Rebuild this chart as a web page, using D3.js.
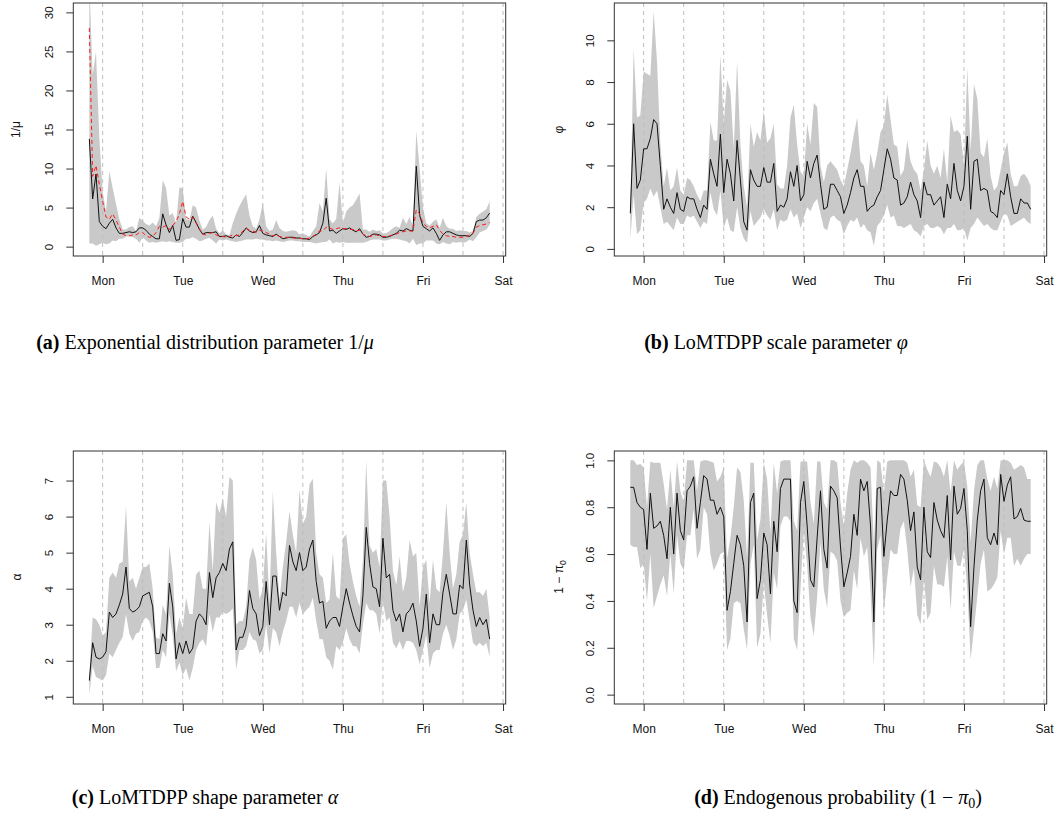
<!DOCTYPE html>
<html>
<head>
<meta charset="utf-8">
<script src="https://cdn.jsdelivr.net/npm/d3@7"></script>
<style>
  body { margin: 0; background: #fff; }
  svg { display: block; }
</style>
</head>
<body>
<svg id="chart" width="1058" height="833"></svg>
<script>
// hourly estimates, first point is Sunday 20:00 (hour -4 relative to Monday 0:00)
const startHour = -4;
const dayLabels = ['Mon', 'Tue', 'Wed', 'Thu', 'Fri', 'Sat'];
const dayTicks = [0, 24, 48, 72, 96, 120];
const halfDayLines = [0, 12, 24, 36, 48, 60, 72, 84, 96, 108, 120];

// (a) 1/mu
const muMid = [
  13.8, 6.1, 9.3, 3.2, 2.6, 2.3, 3.0, 3.5, 2.4, 1.7,
  1.7, 1.8, 1.9, 1.8, 1.9, 2.4, 2.4, 2.1, 1.6, 1.3,
  1.0, 1.0, 4.2, 2.8, 1.8, 2.7, 0.8, 0.9, 3.6, 2.5,
  2.5, 3.9, 3.1, 2.2, 1.6, 1.8, 1.8, 1.8, 1.9, 1.3,
  1.3, 1.4, 1.2, 1.1, 1.5, 1.3, 1.8, 2.4, 2.0, 1.8,
  1.9, 2.7, 1.7, 1.5, 1.4, 1.3, 1.6, 1.3, 1.0, 1.1,
  1.2, 1.2, 1.1, 1.1, 1.0, 1.0, 0.9, 1.3, 1.5, 1.8,
  3.0, 6.2, 2.0, 2.1, 1.7, 2.0, 2.3, 2.2, 2.4, 2.1,
  1.9, 2.3, 1.6, 1.2, 1.3, 1.6, 1.6, 1.5, 1.2, 1.2,
  1.3, 1.5, 1.7, 2.1, 2.0, 2.3, 2.1, 2.0, 10.3, 4.0,
  2.6, 2.3, 2.0, 2.4, 1.7, 0.8, 1.5, 1.9, 1.9, 1.7,
  1.5, 1.4, 1.4, 1.4, 1.3, 1.7, 3.2, 3.4, 3.4, 3.7, 4.3
];
const muHigh = [
  34, 22, 25, 14, 7.0, 4.5, 9.7, 7.5, 5.5, 3.5,
  2.2, 2.2, 2.5, 2.6, 2.0, 3.7, 3.3, 2.9, 2.7, 3.1,
  2.6, 3.7, 8.5, 7.5, 4.0, 4.3, 3.0, 7.6, 7.4, 3.5,
  3.4, 5.3, 5.0, 3.3, 2.2, 2.5, 3.4, 4.0, 2.3, 1.7,
  2.1, 1.6, 1.5, 3.0, 4.2, 5.2, 6.0, 6.7, 4.0, 2.6,
  2.3, 3.5, 5.6, 2.6, 2.0, 2.2, 3.4, 2.4, 2.0, 1.9,
  2.0, 2.1, 2.0, 1.6, 1.7, 1.5, 1.3, 2.0, 2.6, 5.6,
  4.5, 10.0, 3.5, 3.0, 3.5, 8.2, 3.0, 4.5, 5.0, 5.3,
  6.0, 6.8, 2.2, 2.2, 1.9, 2.2, 2.0, 2.1, 1.7, 1.7,
  2.0, 2.4, 2.6, 2.4, 3.7, 2.9, 3.8, 2.6, 14.8, 10.0,
  5.0, 3.0, 2.7, 3.2, 3.5, 2.4, 3.7, 2.6, 2.3, 2.3,
  2.0, 2.1, 2.0, 2.0, 1.8, 2.0, 3.8, 4.2, 4.5, 4.8, 5.8
];
const muLow = [
  0.4, 0.4, 0.1, 0.3, 0.5, 0.3, 0.4, 0.8, 0.7, 1.0,
  1.0, 1.3, 1.3, 1.2, 1.0, 0.5, 1.2, 0.8, 0.5, 0.6,
  0.5, 0.6, 0.7, 0.6, 0.7, 0.6, 0.5, 0.5, 0.6, 1.0,
  1.0, 1.2, 1.0, 0.7, 0.8, 1.0, 1.1, 0.8, 0.4, 0.9,
  0.8, 0.9, 0.8, 0.7, 0.6, 0.7, 0.8, 0.9, 0.9, 0.9,
  1.0, 0.9, 0.9, 0.8, 0.8, 0.7, 0.8, 0.7, 0.6, 0.7,
  0.8, 0.8, 0.7, 0.7, 0.6, 0.6, 0.6, 0.5, 0.4, 0.5,
  0.6, 0.6, 0.9, 0.4, 0.6, 0.5, 0.6, 0.5, 0.5, 0.5,
  0.5, 0.5, 0.5, 0.6, 0.8, 0.9, 0.9, 0.9, 0.8, 0.8,
  0.9, 1.0, 1.0, 0.9, 0.8, 0.7, 0.4, 1.0, 0.2, 0.4,
  0.4, 0.8, 0.8, 0.8, 0.4, 0.3, 0.6, 0.4, 0.3, 0.6,
  0.5, 0.6, 0.5, 0.6, 0.9, 0.7, 1.2, 1.8, 2.0, 2.2, 2.8
];
// red dashed reference estimate in (a)
const muRef = [
  28, 9.0, 10.4, 8.0, 5.8, 3.8, 3.5, 4.2, 3.4, 2.5,
  1.6, 1.4, 1.4, 1.5, 1.5, 1.8, 1.8, 1.4, 1.2, 1.3,
  1.8, 2.6, 2.5, 2.7, 2.2, 2.7, 3.2, 4.2, 5.8, 3.8,
  3.5, 3.8, 3.0, 2.3, 1.6, 1.5, 1.7, 1.8, 1.5, 1.3,
  1.3, 1.2, 1.3, 1.5, 1.4, 1.5, 2.0, 2.3, 2.1, 2.0,
  1.8, 2.1, 2.0, 1.8, 1.6, 1.4, 1.5, 1.3, 1.2, 1.2,
  1.2, 1.1, 1.1, 1.1, 1.0, 1.0, 1.1, 1.3, 1.6, 2.0,
  2.0, 2.5, 2.4, 2.2, 2.3, 2.4, 2.3, 2.3, 2.2, 2.2,
  2.0, 2.1, 1.6, 1.4, 1.3, 1.4, 1.5, 1.4, 1.3, 1.3,
  1.4, 1.5, 1.6, 1.8, 1.9, 2.0, 2.0, 2.0, 4.7, 4.2,
  3.0, 2.6, 2.4, 2.6, 2.8, 2.1, 1.6, 1.4, 1.3, 1.3,
  1.2, 1.2, 1.2, 1.3, 1.5, 1.7, 2.5, 2.7, 2.8, 2.9, 3.1
];

// (b) phi
const phiMid = [
  1.7, 6.0, 2.9, 3.3, 4.8, 4.8, 5.3, 6.2, 6.0, 4.0,
  1.9, 2.4, 2.0, 1.7, 2.7, 1.9, 1.8, 2.5, 2.4, 2.4,
  1.9, 1.5, 2.1, 1.9, 4.3, 3.6, 3.0, 5.5, 2.7, 4.3,
  3.6, 2.3, 5.2, 3.3, 1.3, 0.9, 3.8, 3.3, 3.0, 3.0,
  3.9, 3.2, 3.2, 4.1, 1.8, 2.1, 2.0, 2.4, 3.7, 3.0,
  4.0, 2.3, 2.6, 4.2, 3.4, 4.1, 4.5, 3.1, 1.9, 2.0,
  3.1, 3.1, 2.8, 2.5, 1.7, 2.1, 2.7, 3.4, 3.8, 3.0,
  3.0, 1.8, 2.0, 2.1, 2.5, 2.8, 3.8, 4.8, 4.3, 3.4,
  3.3, 2.1, 2.2, 2.5, 3.2, 2.6, 2.3, 1.5, 3.2, 2.6,
  2.6, 2.1, 2.3, 2.5, 1.5, 3.1, 2.4, 4.1, 2.8, 2.3,
  3.0, 5.4, 1.9, 4.2, 4.3, 2.8, 2.9, 2.8, 1.8, 1.7,
  1.5, 2.8, 2.6, 3.6, 2.5, 1.7, 1.7, 2.4, 2.2, 2.2, 1.9
];
const phiHigh = [
  1.9, 9.6, 6.3, 6.4, 8.5, 8.4, 8.3, 11.4, 9.0, 5.0,
  3.0, 3.9, 2.8, 3.0, 3.9, 2.8, 2.6, 3.4, 3.3, 3.0,
  2.6, 2.3, 2.8, 2.8, 6.1, 5.2, 5.2, 9.3, 6.0, 8.1,
  7.6, 4.8, 9.0, 5.0, 3.0, 2.0, 6.0, 4.9, 5.6, 5.2,
  6.6, 5.1, 5.3, 6.0, 3.1, 2.9, 2.9, 4.0, 6.3, 6.9,
  5.0, 3.7, 3.5, 6.0, 5.0, 7.0, 6.8, 4.0, 3.2, 4.0,
  4.2, 4.0, 3.8, 3.3, 3.0, 3.8, 4.6, 5.5, 6.3, 4.2,
  4.0, 3.0, 4.6, 3.8, 4.6, 5.6, 5.9, 7.4, 6.2, 5.0,
  4.9, 3.5, 3.8, 5.2, 4.2, 3.8, 3.6, 2.8, 3.8, 5.2,
  4.0, 3.6, 4.0, 3.4, 4.8, 3.2, 6.4, 5.6, 5.7, 5.5,
  4.0, 8.7, 4.7, 7.9, 7.2, 4.6, 4.4, 5.3, 3.5, 2.8,
  3.0, 3.8, 4.6, 5.1, 3.6, 3.0, 3.0, 3.5, 3.6, 3.4, 3.0
];
const phiLow = [
  0.45, 2.6, 0.7, 0.9, 2.2, 2.4, 2.9, 2.5, 2.8, 2.0,
  1.2, 1.3, 1.1, 0.9, 1.5, 1.2, 1.2, 1.6, 1.5, 1.6,
  1.3, 1.0, 1.3, 1.2, 2.7, 1.9, 1.6, 2.8, 1.0, 1.5,
  0.9, 0.8, 2.0, 1.0, 0.5, 0.3, 1.8, 1.1, 1.3, 1.5,
  1.9, 1.6, 1.4, 1.9, 0.9, 1.4, 1.3, 1.4, 1.9, 1.5,
  1.7, 1.0, 1.5, 2.0, 1.8, 2.2, 2.4, 1.7, 1.0, 0.9,
  1.5, 1.6, 1.4, 1.3, 0.7, 1.1, 1.4, 1.3, 1.5, 1.0,
  1.2, 0.9, 0.8, 0.15, 1.1, 1.3, 1.6, 2.1, 1.5, 1.6,
  1.1, 1.1, 1.0, 1.1, 1.2, 0.9, 0.8, 0.6, 1.1, 1.2,
  1.0, 1.0, 1.1, 1.0, 0.7, 1.0, 1.0, 1.2, 0.9, 0.9,
  1.0, 0.4, 1.0, 1.2, 1.5, 1.3, 1.1, 1.2, 1.0, 0.9,
  0.9, 1.3, 1.7, 1.6, 1.1, 1.2, 1.3, 1.4, 1.5, 1.3, 1.2
];

// (c) alpha
const alphaMid = [
  1.45, 2.5, 2.1, 2.05, 2.1, 2.25, 3.35, 3.2, 3.3, 3.55,
  3.85, 4.6, 3.45, 3.35, 3.4, 3.5, 3.8, 3.85, 3.9, 3.5,
  2.2, 2.2, 2.75, 2.55, 4.15, 3.5, 2.05, 2.5, 2.2, 2.55,
  2.2, 2.35, 3.1, 3.3, 3.2, 3.0, 4.45, 3.75, 4.3, 4.45,
  4.7, 4.5, 5.1, 5.3, 2.3, 2.65, 2.65, 2.95, 3.95, 3.45,
  3.3, 2.7, 2.95, 4.2, 3.0, 4.35, 4.35, 3.4, 3.9, 3.8,
  5.2, 4.75, 4.5, 5.0, 4.5, 4.6, 5.1, 5.35, 4.2, 3.6,
  3.65, 2.9, 3.1, 3.2, 3.2, 2.95, 3.5, 4.0, 3.6, 3.25,
  2.95, 2.8, 3.8, 5.7, 4.7, 4.05, 4.0, 3.5, 5.4, 4.3,
  4.4, 3.4, 3.1, 3.3, 2.8, 3.3, 3.4, 3.6, 3.1, 2.4,
  2.9, 3.85, 2.5, 3.3, 3.0, 3.0, 3.9, 4.4, 3.85, 3.3,
  3.3, 4.1, 4.0, 5.35, 4.1, 3.4, 2.95, 3.2, 3.0, 3.15, 2.6
];
const alphaHigh = [
  1.6, 3.2, 3.15, 3.0, 2.7, 2.8, 4.3, 4.45, 4.3, 4.7,
  4.75, 6.3, 4.2, 4.3, 4.0, 4.3, 4.6, 4.6, 4.7, 4.0,
  2.65, 2.6, 3.55, 3.3, 5.2, 4.4, 2.75, 3.2, 2.9, 3.75,
  3.3, 3.3, 4.4, 4.5, 4.0, 4.0, 5.85, 4.5, 6.4, 6.1,
  6.5, 6.0, 7.1, 7.0, 3.0, 3.1, 3.1, 3.5, 4.8, 5.15,
  4.8, 3.7, 4.0, 5.55, 3.6, 6.7, 5.0, 3.7, 4.6, 5.3,
  6.15, 5.5, 5.0, 6.75, 5.8, 6.0, 6.9, 7.05, 5.0, 4.4,
  4.3, 3.6, 3.7, 5.0, 3.8, 3.7, 5.4, 5.5, 4.7, 4.2,
  3.8, 3.5, 4.8, 7.55, 5.2, 5.0, 5.1, 4.6, 7.0, 7.0,
  6.0, 4.5, 4.1, 4.9, 3.9, 4.3, 5.35, 4.9, 5.0, 3.5,
  4.6, 4.8, 3.6, 4.8, 4.0, 3.9, 5.0, 6.4, 5.0, 4.0,
  4.4, 5.3, 5.5, 6.4, 5.0, 4.4, 3.9, 3.9, 3.8, 4.0, 3.2
];
const alphaLow = [
  1.05, 1.85, 1.55, 1.5, 1.45, 1.6, 2.2, 2.1, 2.3, 2.5,
  2.65, 3.3, 2.75, 2.55, 2.75, 2.8, 3.1, 3.2, 3.1, 2.8,
  1.8, 1.8, 2.3, 2.1, 3.3, 2.7, 1.7, 1.95, 1.6, 1.8,
  1.45, 1.8, 2.3, 2.5, 2.6, 2.4, 3.3, 2.8, 3.2, 3.2,
  3.35, 3.3, 3.35, 3.45, 1.75, 2.3, 2.3, 2.4, 2.8, 2.6,
  2.55, 2.2, 2.3, 3.0, 2.2, 2.9, 2.8, 2.4, 2.8, 3.1,
  3.5, 3.5, 3.2, 3.6, 3.3, 3.4, 3.5, 3.75, 3.1, 2.6,
  2.6, 2.1, 2.0, 1.75, 2.4, 2.3, 2.5, 2.9, 2.6, 2.4,
  2.4, 2.2, 3.0, 3.6, 3.4, 3.4, 3.3, 2.75, 3.65, 3.1,
  3.2, 2.5, 2.35, 2.55, 2.3, 2.55, 2.55, 2.5, 2.3, 1.9,
  2.3, 2.7, 1.8, 2.2, 2.3, 2.3, 2.75, 3.0, 2.7, 2.3,
  2.6, 3.3, 3.4, 3.7, 3.1, 2.5, 2.4, 2.5, 2.4, 2.5, 2.1
];

// (d) 1 - pi0
const endoMid = [
  0.885, 0.885, 0.82, 0.80, 0.79, 0.62, 0.86, 0.71, 0.72, 0.74,
  0.68, 0.58, 0.80, 0.60, 0.86, 0.70, 0.66, 0.87, 0.89, 0.93,
  0.71, 0.82, 0.935, 0.92, 0.83, 0.83, 0.77, 0.80, 0.76, 0.36,
  0.44, 0.56, 0.68, 0.64, 0.55, 0.31, 0.82, 0.86, 0.41, 0.49,
  0.69, 0.64, 0.43, 0.74, 0.61, 0.88, 0.92, 0.92, 0.92, 0.40,
  0.35, 0.82, 0.91, 0.72, 0.49, 0.46, 0.67, 0.87, 0.62, 0.54,
  0.89, 0.87, 0.84, 0.63, 0.46, 0.52, 0.59, 0.77, 0.68, 0.92,
  0.87, 0.91, 0.72, 0.31, 0.88, 0.885, 0.59, 0.745, 0.87, 0.85,
  0.85, 0.94, 0.92, 0.83, 0.70, 0.78, 0.545, 0.49, 0.80, 0.61,
  0.585, 0.82, 0.745, 0.70, 0.67, 0.85, 0.575, 0.89, 0.77, 0.795,
  0.88, 0.70, 0.29, 0.545, 0.745, 0.87, 0.92, 0.67, 0.64, 0.69,
  0.64, 0.94, 0.825, 0.895, 0.93, 0.75, 0.76, 0.795, 0.745, 0.74, 0.74
];
const endoHigh = [
  1.0, 1.0, 0.98, 0.985, 0.97, 0.80, 0.995, 0.99, 0.99, 0.99,
  0.90, 0.79, 0.96, 0.80, 0.995, 0.87, 0.82, 1.0, 1.0, 1.0,
  0.87, 0.995, 1.0, 1.0, 0.995, 0.99, 0.91, 0.93, 0.97, 0.58,
  0.67, 0.80, 0.97, 0.95, 0.83, 0.58, 0.99, 0.99, 0.66, 0.75,
  0.99, 0.92, 0.69, 0.99, 0.86, 0.995, 1.0, 1.0, 1.0, 0.74,
  0.70, 0.995, 0.995, 0.995, 0.82, 0.73, 0.995, 0.995, 0.82, 0.79,
  1.0, 1.0, 0.99, 0.82, 0.72, 0.86, 0.96, 1.0, 0.99, 1.0,
  1.0, 0.99, 0.97, 0.64, 1.0, 0.99, 0.86, 0.995, 1.0, 1.0,
  1.0, 1.0, 1.0, 0.99, 0.93, 0.96, 0.81, 0.80, 1.0, 0.96,
  0.93, 0.995, 0.99, 0.97, 0.93, 1.0, 0.86, 1.0, 0.96, 0.98,
  0.995, 0.89, 0.65, 0.87, 0.98, 1.0, 1.0, 0.92, 0.87, 0.93,
  0.88, 1.0, 1.0, 1.0, 0.99, 0.96, 0.97, 0.98, 0.97, 0.92, 0.92
];
const endoLow = [
  0.64, 0.63, 0.63, 0.54, 0.56, 0.40, 0.60, 0.37, 0.42, 0.47,
  0.51, 0.42, 0.60, 0.43, 0.68, 0.56, 0.53, 0.68, 0.68, 0.79,
  0.58, 0.62, 0.80, 0.77, 0.60, 0.53, 0.56, 0.60, 0.61, 0.19,
  0.24, 0.39, 0.40, 0.39, 0.28, 0.19, 0.56, 0.64, 0.20, 0.26,
  0.48, 0.34, 0.22, 0.52, 0.45, 0.72, 0.76, 0.76, 0.74, 0.24,
  0.19, 0.45, 0.70, 0.55, 0.33, 0.25, 0.42, 0.65, 0.45, 0.37,
  0.61, 0.60, 0.57, 0.40, 0.33, 0.35, 0.36, 0.53, 0.45, 0.67,
  0.59, 0.63, 0.44, 0.12, 0.62, 0.68, 0.35, 0.50, 0.62, 0.60,
  0.60, 0.71, 0.74, 0.62, 0.46, 0.54, 0.34, 0.30, 0.50, 0.32,
  0.35, 0.55, 0.47, 0.47, 0.46, 0.59, 0.36, 0.61, 0.55, 0.55,
  0.62, 0.45, 0.15, 0.28, 0.42, 0.56, 0.62, 0.44, 0.45, 0.47,
  0.50, 0.70, 0.60, 0.67, 0.67, 0.55, 0.58, 0.55, 0.58, 0.60, 0.60
];

const muTicks = [0, 5, 10, 15, 20, 25, 30];
const phiTicks = [0, 2, 4, 6, 8, 10];
const alphaTicks = [1, 2, 3, 4, 5, 6, 7];
const endoTicks = [0, 0.2, 0.4, 0.6, 0.8, 1.0];

const boxW = 432.4, boxH = 253;
const xDomain = [-8.8, 120.8];
const axisFont = "'Liberation Sans', Arial, Helvetica, sans-serif";
const capFont = "'Liberation Serif', 'Times New Roman', serif";

const panels = [
  { key: 'a', left: 73.3, top: 3, yDomain: [-1.2, 31.2], ticks: muTicks, fmt: d3.format('d'),
    mid: muMid, low: muLow, high: muHigh, ref: muRef },
  { key: 'b', left: 614.3, top: 3, yDomain: [-0.34, 11.79], ticks: phiTicks, fmt: d3.format('d'),
    mid: phiMid, low: phiLow, high: phiHigh },
  { key: 'c', left: 73.3, top: 451, yDomain: [0.80, 7.82], ticks: alphaTicks, fmt: d3.format('d'),
    mid: alphaMid, low: alphaLow, high: alphaHigh },
  { key: 'd', left: 614.3, top: 451, yDomain: [-0.04, 1.04], ticks: endoTicks, fmt: d3.format('.1f'),
    mid: endoMid, low: endoLow, high: endoHigh }
];

const svg = d3.select('#chart');
svg.append('rect').attr('width', 1058).attr('height', 833).attr('fill', '#fff');
const defs = svg.append('defs');

const hourOf = i => startHour + i;

const drawPanel = p => {
  const x = d3.scaleLinear().domain(xDomain).range([p.left, p.left + boxW]);
  const y = d3.scaleLinear().domain(p.yDomain).range([p.top + boxH, p.top]);

  defs.append('clipPath').attr('id', `clip-${p.key}`)
    .append('rect')
    .attr('x', p.left).attr('y', p.top)
    .attr('width', boxW).attr('height', boxH);

  const g = svg.append('g').attr('clip-path', `url(#clip-${p.key})`);

  const band = d3.area()
    .x((d, i) => x(hourOf(i)))
    .y0((d, i) => y(p.low[i]))
    .y1(d => y(d));

  g.append('path')
    .datum(p.high)
    .attr('fill', '#c9c9c9')
    .attr('d', band);

  g.selectAll('line.grid')
    .data(halfDayLines)
    .join('line')
    .attr('class', 'grid')
    .attr('x1', d => x(d)).attr('x2', d => x(d))
    .attr('y1', p.top).attr('y2', p.top + boxH)
    .attr('stroke', '#bdbdbd')
    .attr('stroke-width', 1)
    .attr('stroke-dasharray', '4,4');

  const line = d3.line().x((d, i) => x(hourOf(i))).y(d => y(d));

  g.append('path')
    .datum(p.mid)
    .attr('fill', 'none')
    .attr('stroke', '#111')
    .attr('stroke-width', 1)
    .attr('stroke-linejoin', 'round')
    .attr('d', line);

  if (p.ref) {
    g.append('path')
      .datum(p.ref)
      .attr('fill', 'none')
      .attr('stroke', '#ff1a1a')
      .attr('stroke-width', 1)
      .attr('stroke-dasharray', '4,3')
      .attr('d', line);
  }

  svg.append('rect')
    .attr('x', p.left).attr('y', p.top)
    .attr('width', boxW).attr('height', boxH)
    .attr('fill', 'none')
    .attr('stroke', '#333')
    .attr('stroke-width', 1);

  const xAxis = svg.append('g')
    .attr('transform', `translate(0,${p.top + boxH})`)
    .call(d3.axisBottom(x).tickValues(dayTicks).tickSize(7).tickPadding(13)
      .tickFormat((d, i) => dayLabels[i]));
  xAxis.select('.domain').remove();
  xAxis.selectAll('line').attr('stroke', '#333');
  xAxis.selectAll('text')
    .attr('font-family', axisFont).attr('font-size', 12).attr('fill', '#111');

  const yAxis = svg.append('g')
    .attr('transform', `translate(${p.left},0)`)
    .call(d3.axisLeft(y).tickValues(p.ticks).tickSize(7).tickFormat(p.fmt));
  yAxis.select('.domain').remove();
  yAxis.selectAll('line').attr('stroke', '#333');
  yAxis.selectAll('text')
    .attr('font-family', axisFont).attr('font-size', 11.5).attr('fill', '#111')
    .attr('x', 0).attr('dy', null)
    .attr('text-anchor', 'middle')
    .attr('transform', 'translate(-20,0) rotate(-90)');

  return { x, y };
};

panels.forEach(drawPanel);

// y axis titles
const yTitle = (cx, cy) => svg.append('text')
  .attr('transform', `translate(${cx},${cy}) rotate(-90)`)
  .attr('text-anchor', 'middle')
  .attr('font-family', axisFont)
  .attr('font-size', 12)
  .attr('fill', '#111');

yTitle(20, 129.5).text('1/μ');
yTitle(563, 129.5).text('φ');
yTitle(21, 577).text('α');
const pt = yTitle(563, 577);
pt.append('tspan').text('1 − π');
pt.append('tspan').attr('font-size', 8.5).attr('dy', 3).text('0');

// sub-figure captions
const caption = (cx, cy, tag) => {
  const t = svg.append('text')
    .attr('x', cx).attr('y', cy)
    .attr('text-anchor', 'middle')
    .attr('font-family', capFont)
    .attr('font-size', 20)
    .attr('fill', '#000');
  t.append('tspan').attr('font-weight', 'bold').text(`(${tag})`);
  return t;
};

const ca = caption(205, 349, 'a');
ca.append('tspan').text(' Exponential distribution parameter 1/');
ca.append('tspan').attr('font-style', 'italic').text('μ');

const cb = caption(776, 349, 'b');
cb.append('tspan').text(' LoMTDPP scale parameter ');
cb.append('tspan').attr('font-style', 'italic').text('φ');

const cc = caption(205, 804, 'c');
cc.append('tspan').text(' LoMTDPP shape parameter ');
cc.append('tspan').attr('font-style', 'italic').text('α');

const cd = caption(838, 804, 'd');
cd.append('tspan').text(' Endogenous probability (1 − ');
cd.append('tspan').attr('font-style', 'italic').text('π');
cd.append('tspan').attr('font-size', 14).attr('dy', 4).text('0');
cd.append('tspan').attr('dy', -4).text(')');
</script>
</body>
</html>
